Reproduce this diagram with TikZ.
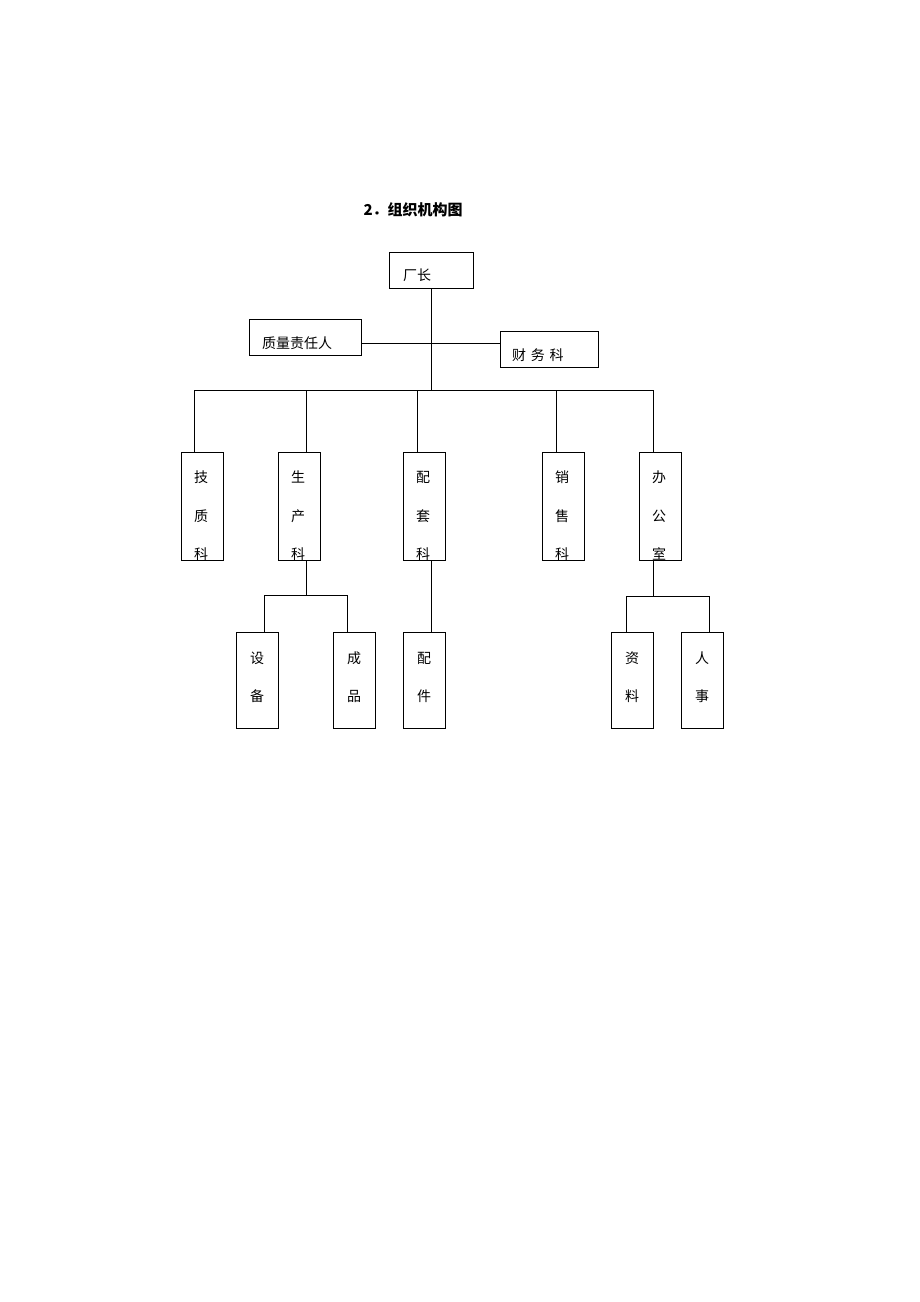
\documentclass[tikz,border=0pt]{standalone}
\usepackage{fontspec}
\newfontfamily\cjk{Noto Sans CJK SC}
\begin{document}
\begin{tikzpicture}[x=1pt,y=-1pt,
  bx/.style={draw,line width=0.8pt},
  ln/.style={line width=0.8pt},
  ch/.style={font=\cjk\fontsize{14}{14}\selectfont,inner sep=0pt}]
\useasboundingbox (0,0) rectangle (920,1302);
\node[font=\cjk\bfseries\fontsize{15}{15}\selectfont,anchor=west] (title) at (360,210) {2．组织机构图};
% top boxes
\draw[bx] (389,252) rectangle (473,288); \coordinate (cz) at (431,288);
\node[ch,anchor=west] (czt) at (403,275) {厂长};
\draw[bx] (249,319) rectangle (361,355); \coordinate (zl) at (361,343);
\node[ch,anchor=west] (zlt) at (262,343) {质量责任人};
\draw[bx] (500,331) rectangle (598,367); \coordinate (cw) at (500,343);
\node[ch,anchor=west] (cwt) at (512,355) {财\,\,务\,\,科};
\coordinate (bus) at (431,390);
\draw[ln] (cz) -- (bus);
\draw[ln] (zl) -- (cw);
\draw[ln] (194,390) -- (653,390);
% level 2
\foreach \n/\xl/\dx/\a/\b/\c in {js/181/194/技/质/科, sc/278/306/生/产/科, pt/403/417/配/套/科, xs/542/556/销/售/科, bg/639/653/办/公/室}{
  \draw[bx] (\xl,452) rectangle ++(42,108);
  \draw[ln] (\dx,390) -- (\dx,452);
  \node[ch] (\n1) at (\xl+20,477) {\a};
  \node[ch] (\n2) at (\xl+20,516) {\b};
  \begin{scope}\clip (\xl,540) rectangle ++(42,20);
  \node[ch] (\n3) at (\xl+20,554) {\c};\end{scope}
}
% level 3
\draw[ln] (306,560) -- (306,595); \draw[ln] (264,595) -- (347,595);
\draw[ln] (264,595) -- (264,632); \draw[ln] (347,595) -- (347,632);
\draw[ln] (431,560) -- (431,632);
\draw[ln] (653,560) -- (653,596); \draw[ln] (626,596) -- (709,596);
\draw[ln] (626,596) -- (626,632); \draw[ln] (709,596) -- (709,632);
\foreach \n/\xl/\a/\b in {sb/236/设/备, cp/333/成/品, pj/403/配/件, zlb/611/资/料, rs/681/人/事}{
  \draw[bx] (\xl,632) rectangle ++(42,96);
  \node[ch] (\n1) at (\xl+21,658) {\a};
  \node[ch] (\n2) at (\xl+21,696) {\b};
}
\end{tikzpicture}
\end{document}
